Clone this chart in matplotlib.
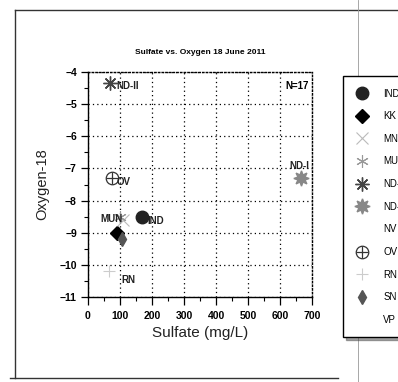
import matplotlib
matplotlib.use("Agg")
import matplotlib.pyplot as plt
from matplotlib.lines import Line2D
from matplotlib.legend_handler import HandlerTuple
from matplotlib.ticker import MultipleLocator

plt.rcParams['font.family'] = ['Liberation Sans', 'DejaVu Sans']

# данные: сульфат (мг/л) и кислород-18
sites = ['IND', 'KK', 'MN', 'MUN', 'ND-II', 'ND-I', 'NV', 'OV', 'RN', 'SN', 'VP']
sulfate = [170, 90, 108, 100, 70, 665, None, 75, 65, 105, None]
oxygen18 = [-8.5, -9.0, -8.6, -8.5, -4.35, -7.3, None, -7.3, -10.2, -9.2, None]
point_labels = {'IND': (185, -8.62), 'OV': (88, -7.42), 'MUN': (38, -8.58),
                'ND-II': (88, -4.43), 'ND-I': (628, -6.92), 'RN': (105, -10.48)}

styles = {
    'IND': dict(marker='o', ms=9, mfc='#222222', mec='#222222'),
    'KK': dict(marker='D', ms=7, mfc='black', mec='black'),
    'MN': dict(marker='x', ms=8, mec='#bbbbbb', mew=0.8),
    'MUN': dict(marker=(6, 2, 0), ms=9, mec='#999999', mew=0.8),
    'ND-II': dict(marker=(8, 2, 0), ms=10, mec='#444444', mew=1.0),
    'ND-I': dict(marker=(8, 1, 0), ms=11, mfc='#888888', mec='#888888'),
    'NV': dict(marker='none'),
    'OV': dict(marker='o', ms=9, mfc='none', mec='#333333', mew=0.9),
    'RN': dict(marker='+', ms=8, mec='#cccccc', mew=0.8),
    'SN': dict(marker='d', ms=7, mfc='#555555', mec='#555555'),
    'VP': dict(marker='none'),
}
plus_style = dict(linestyle='none', marker='+', ms=9, mec='#333333', mew=0.9)

fig = plt.figure(figsize=(3.98, 3.82), dpi=100)
ax = fig.add_axes([0.221, 0.2225, 0.563, 0.589])

handles = []
for name, x, y in zip(sites, sulfate, oxygen18):
    st = styles[name]
    if x is not None:
        ax.plot([x], [y], linestyle='none', zorder=3, **st)
        if name == 'OV':
            ax.plot([x], [y], zorder=4, **plus_style)
    h = Line2D([], [], linestyle='none', **st)
    if name == 'OV':
        h = (h, Line2D([], [], **plus_style))
    handles.append(h)

for name, (tx, ty) in point_labels.items():
    ax.text(tx, ty, name, fontsize=7, fontweight='bold', color='#222222', va='center')
ax.text(690, -4.45, 'N=17', fontsize=7, fontweight='bold', ha='right', va='center')

ax.set_xlim(0, 700)
ax.set_ylim(-11, -4)
ax.xaxis.set_major_locator(MultipleLocator(100))
ax.xaxis.set_minor_locator(MultipleLocator(50))
ax.yaxis.set_major_locator(MultipleLocator(1))
ax.yaxis.set_minor_locator(MultipleLocator(0.5))
ax.grid(True, which='major', color='black', linestyle=(0, (1, 2.5)), linewidth=0.9)
ax.tick_params(axis='x', which='major', length=6, width=0.9, pad=4, labelsize=7.5)
ax.tick_params(axis='y', which='major', length=5, width=0.9, pad=3, labelsize=7.5)
ax.tick_params(which='minor', length=3, width=0.8)
for lab in ax.get_xticklabels() + ax.get_yticklabels():
    lab.set_fontweight('bold')
for s in ['top', 'right']:
    ax.spines[s].set_linestyle(':')
    ax.spines[s].set_linewidth(1.0)
for s in ['left', 'bottom']:
    ax.spines[s].set_linewidth(1.0)

ax.set_title('Sulfate vs. Oxygen 18 June 2011', fontsize=6, fontweight='bold', pad=13)
ax.set_xlabel('Sulfate (mg/L)', fontsize=11, labelpad=4, color='#222222')
ax.set_ylabel('Oxygen-18', fontsize=10.5, labelpad=7, color='#222222')

# легенда, как в оригинале, обрезана правым краем
leg = fig.legend(handles, sites, loc='upper left', bbox_to_anchor=(0.862, 0.80),
                 borderaxespad=0, fontsize=7, labelspacing=1.3, handlelength=1.3,
                 handletextpad=1.6, borderpad=1.25, frameon=True, fancybox=False,
                 shadow=True, handler_map={tuple: HandlerTuple(ndivide=1)})
leg.get_frame().set_edgecolor('black')
leg.get_frame().set_linewidth(1.0)

# рамка страницы
fig.add_artist(Line2D([0.038, 0.038], [0.01, 0.974], color='#333333', lw=1.0))
fig.add_artist(Line2D([0.038, 1.0], [0.974, 0.974], color='#333333', lw=1.0))
fig.add_artist(Line2D([0.025, 0.85], [0.01, 0.01], color='#333333', lw=1.0))
fig.add_artist(Line2D([0.9, 0.9], [0.0, 1.0], color='#999999', lw=0.6))

fig.savefig('out.png', dpi=100)
